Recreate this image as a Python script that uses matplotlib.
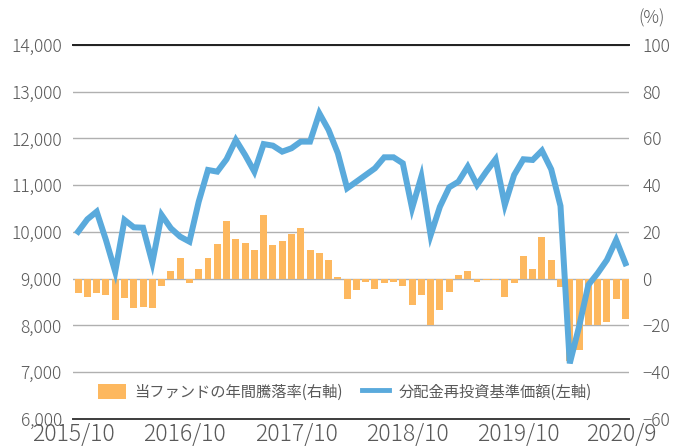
import numpy as np
import matplotlib
matplotlib.use("Agg")
import matplotlib.pyplot as plt
from matplotlib.patches import Patch
from matplotlib.lines import Line2D

plt.rcParams['font.family'] = ['Noto Sans CJK JP', 'DejaVu Sans']

# 基準価額 (左軸)  2015/10 - 2020/9
nav = [10006, 10272, 10435, 9829, 9150, 10257, 10100, 10092, 9343, 10364,
       10079, 9900, 9793, 10648, 11326, 11290, 11555, 11968, 11647, 11290,
       11880, 11846, 11718, 11790, 11932, 11932, 12539, 12182, 11683, 10935,
       11076, 11219, 11362, 11597, 11597, 11469, 10507, 11183, 9930, 10540,
       10955, 11076, 11397, 11005, 11290, 11555, 10578, 11219, 11555, 11540,
       11740, 11340, 10556, 7190, 7975, 8866, 9116, 9401, 9829, 9330]

# 年間騰落率 (右軸, %)
ret = [-6.1, -7.8, -6.1, -7.1, -17.5, -8.4, -12.7, -12.3, -12.7, -3.3,
       3.4, 9.0, -2.0, 4.3, 9.0, 15.0, 24.8, 17.1, 15.4, 12.4,
       27.4, 14.5, 16.3, 19.3, 21.9, 12.4, 11.1, 8.1, 0.9, -8.6,
       -4.7, -1.3, -4.3, -2.0, -1.3, -2.9, -11.4, -7.1, -20.0, -13.3,
       -5.8, 1.4, 3.1, -1.3, -0.7, -0.4, -8.0, -2.0, 9.6, 4.3,
       17.7, 7.8, -3.7, -35.0, -30.4, -20.0, -20.0, -18.3, -8.6, -17.1]

xlabels = ['2015/10', '2016/10', '2017/10', '2018/10', '2019/10', '2020/9']
xlabel_idx = [0, 12, 24, 36, 48, 59]

orange = '#FDB85F'
blue = '#5AAADC'
grey = '#595959'

x = np.arange(len(nav))

fig = plt.figure(figsize=(6.76, 4.48), dpi=100)
ax = fig.add_axes([0.108, 0.0647, 0.822, 0.835])
ax2 = ax.twinx()

# 棒 (右軸)
ax2.bar(x, ret, width=0.75, color=orange, zorder=2)
ax2.set_ylim(-60, 100)
ax2.set_yticks(range(-60, 101, 20))
ax2.set_yticklabels([str(v).replace('-', '\u2212') for v in range(-60, 101, 20)])
ax2.grid(axis='y', color='#b0b0b0', lw=1.0, zorder=0)
ax2.set_axisbelow(True)

# 線 (左軸)
ax.plot(x, nav, color=blue, lw=4.3, solid_joinstyle='miter', zorder=3)
ax.set_ylim(6000, 14000)
ax.set_yticks(range(6000, 14001, 1000))
ax.set_yticklabels([f'{v:,}' for v in range(6000, 14001, 1000)])
ax.set_zorder(ax2.get_zorder() + 1)
ax.patch.set_visible(False)

ax.set_xlim(-0.55, 59.35)
ax.set_xticks([i - 0.5 for i in xlabel_idx])
ax.set_xticklabels(xlabels)

for a in (ax, ax2):
    for s in ('left', 'right'):
        a.spines[s].set_visible(False)
    a.spines['top'].set_color('#222222')
    a.spines['top'].set_linewidth(1.3)
    a.spines['bottom'].set_color('#404040')
    a.spines['bottom'].set_linewidth(1.3)
    a.tick_params(length=0, colors=grey)

ax.tick_params(axis='y', labelsize=12.5, pad=8)
ax2.tick_params(axis='y', labelsize=12.5, pad=10)
ax.tick_params(axis='x', labelsize=16.5, pad=2.5)
for t in ax.get_xticklabels() + ax.get_yticklabels() + ax2.get_yticklabels():
    t.set_fontweight('light')

fig.text(0.964, 0.96, '(%)', fontsize=12.5, color=grey, ha='center', va='center',
         fontweight='light')

handles = [Patch(facecolor=orange, edgecolor='none'),
           Line2D([0], [0], color=blue, lw=3.5)]
labels = ['当ファンドの年間騰落率(右軸)', '分配金再投資基準価額(左軸)']
leg = ax.legend(handles, labels, loc='center', bbox_to_anchor=(0.489, 0.072),
                ncol=2, frameon=False, fontsize=11, handlelength=1.8,
                handleheight=1.1, columnspacing=1.2, handletextpad=0.6,
                labelcolor=grey)

fig.savefig('out.png', dpi=100)
